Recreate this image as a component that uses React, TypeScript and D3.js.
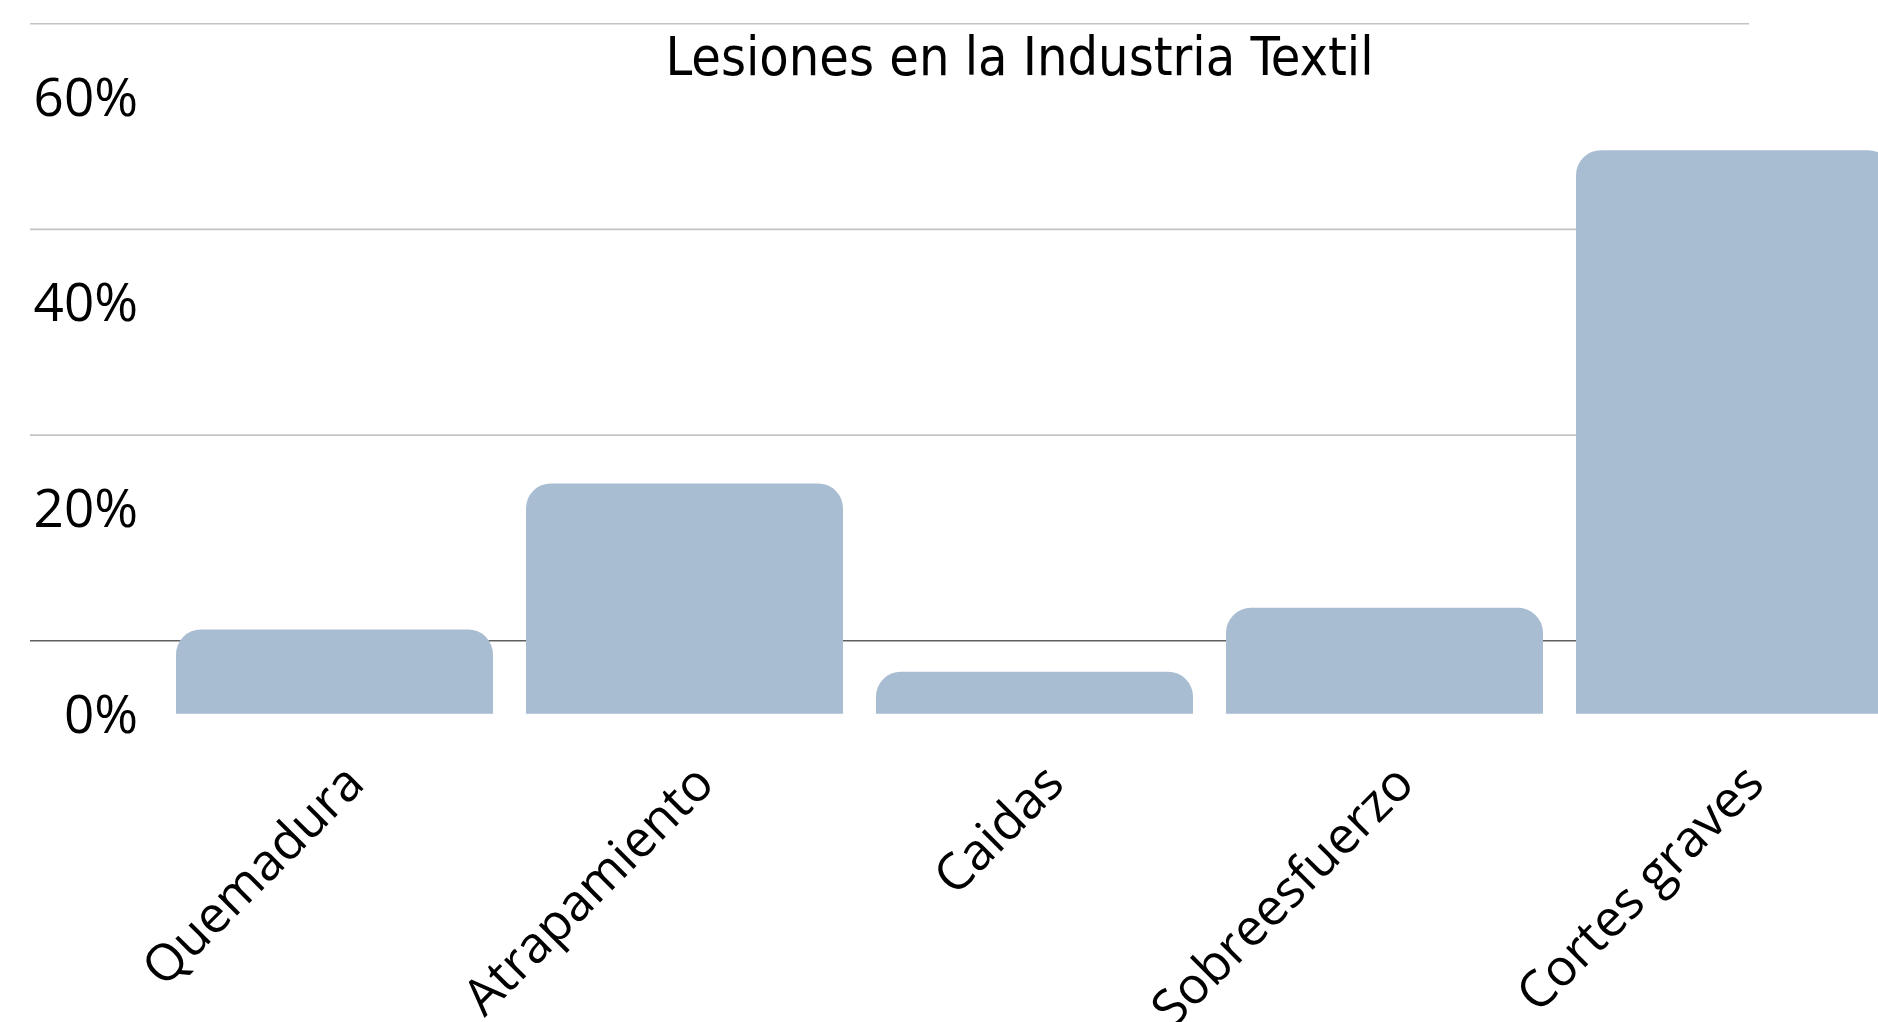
import React from "react";
import * as d3 from "d3";

const title = "Lesiones en la Industria Textil";
const categories = ["Quemadura", "Atrapamiento", "Caidas", "Sobreesfuerzo", "Cortes graves"];
const values = [0.082, 0.224, 0.041, 0.103, 0.548];
const ticks = [0, 0.2, 0.4, 0.6];

const W = 1878;
const H = 1022;

function topRoundedBar(x: number, y: number, w: number, h: number, r: number) {
  const rr = Math.min(r, w / 2, h);
  const p = d3.path();
  p.moveTo(x, y + h);
  p.lineTo(x, y + rr);
  p.arcTo(x, y, x + rr, y, rr);
  p.lineTo(x + w - rr, y);
  p.arcTo(x + w, y, x + w, y + rr, rr);
  p.lineTo(x + w, y + h);
  p.closePath();
  return p.toString();
}

export default function App() {
  const x = d3
    .scaleBand<string>()
    .domain(categories)
    .range([159.5, 1909.5])
    .paddingInner(0.0943)
    .paddingOuter(0.0943 / 2);
  const y = d3.scaleLinear().domain([0, 0.6]).range([713.8, 96.7]);
  const gridOffset = 73;
  const fmt = d3.format(".0%");
  const labelFont = "'Open Sans', 'Noto Sans', sans-serif";

  return (
    <svg
      width={W}
      height={H}
      style={{ position: "fixed", left: 0, top: 0, display: "block", background: "#fff" }}
    >
      <rect x={0} y={0} width={W} height={H} fill="#ffffff" />
      {ticks.map((t, i) => (
        <line
          key={"g" + i}
          x1={30}
          x2={1749}
          y1={y(t) - gridOffset}
          y2={y(t) - gridOffset}
          stroke={t === 0 ? "#5f5f5f" : "#c4c4c4"}
          strokeWidth={1.6}
        />
      ))}
      {categories.map((c, i) => (
        <path
          key={"b" + i}
          d={topRoundedBar(x(c)!, y(values[i]), x.bandwidth(), y(0) - y(values[i]), 25)}
          fill="#a8bdd2"
        />
      ))}
      {ticks.map((t, i) => (
        <text
          key={"t" + i}
          x={138}
          y={y(t)}
          dy="0.36em"
          textAnchor="end"
          fontFamily={labelFont}
          fontSize={53}
          fill="#000"
        >
          {fmt(t)}
        </text>
      ))}
      {categories.map((c, i) => {
        const cx = x(c)! + x.bandwidth() / 2 + 32;
        const cy = 786;
        return (
          <text
            key={"l" + i}
            transform={`translate(${cx},${cy}) rotate(-45)`}
            textAnchor="end"
            fontFamily={labelFont}
            fontSize={51}
            fill="#000"
          >
            {c}
          </text>
        );
      })}
      <text
        x={1019.5}
        y={75}
        textAnchor="middle"
        fontFamily="'Liberation Sans Narrow', 'DejaVu Sans Condensed', sans-serif"
        fontSize={53.5}
        fill="#000"
      >
        {title}
      </text>
    </svg>
  );
}
